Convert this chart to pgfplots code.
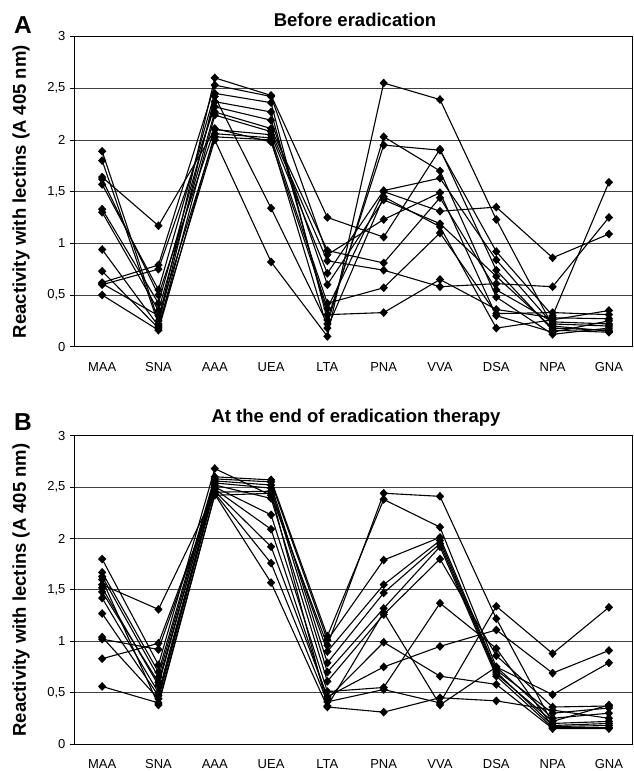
\documentclass[border=0pt]{standalone}
\usepackage{pgfplots}
\pgfplotsset{compat=1.18}
\usepackage{pgfplotstable}
\usepackage{fontspec}
\setmainfont{Liberation Sans}

% rows: MAA SNA AAA UEA LTA PNA VVA DSA NPA GNA ; columns: sera
\pgfplotstableread{
x a1 a2 a3 a4 a5 a6 a7 a8 a9 a10 a11 a12 a13
0 1.64 0.60 0.94 1.89 1.80 1.57 1.33 1.30 0.73 0.62 0.50 1.62 0.61
1 1.17 0.75 0.20 0.25 0.22 0.55 0.42 0.35 0.18 0.79 0.16 0.50 0.30
2 2.10 2.32 2.00 2.60 2.42 2.45 2.37 2.27 2.24 2.53 2.06 2.11 2.03
3 2.05 2.19 0.82 2.43 1.34 2.36 2.27 2.11 2.08 2.42 2.02 1.98 2.00
4 0.71 0.60 0.10 1.25 0.22 0.26 0.31 0.93 0.83 0.89 0.42 0.37 0.18
5 1.51 1.42 2.55 1.06 2.03 1.95 0.33 0.81 0.74 1.23 0.57 1.50 1.45
6 1.63 1.19 2.39 1.91 1.70 1.90 0.65 1.44 0.58 1.49 1.10 1.31 1.16
7 0.84 0.68 1.23 0.74 0.48 0.92 0.36 0.55 0.61 0.30 0.32 1.35 0.18
8 0.22 0.18 0.20 0.16 0.12 0.30 0.28 0.24 0.58 0.14 0.33 0.86 0.26
9 0.20 0.16 0.15 0.14 0.18 1.59 0.27 0.22 1.25 0.25 0.31 1.09 0.35
}\dataA

\pgfplotstableread{
x b1 b2 b3 b4 b5 b6 b7 b8 b9 b10 b11 b12 b13
0 1.80 1.67 1.63 1.55 1.52 1.48 1.42 1.27 1.04 1.02 0.83 0.56 1.60
1 0.77 0.70 0.65 1.31 0.57 0.60 0.50 0.47 0.44 0.92 0.98 0.40 0.38
2 2.68 2.60 2.58 2.45 2.56 2.54 2.52 2.50 2.48 2.46 2.44 2.43 2.42
3 2.42 2.57 2.55 2.46 2.52 2.49 2.39 2.23 2.09 1.92 1.76 1.57 2.44
4 0.96 1.05 1.01 0.90 0.79 0.70 0.61 0.51 0.44 0.46 0.41 0.36 0.37
5 2.44 2.38 1.79 1.55 1.47 1.32 1.26 0.55 0.99 0.75 0.53 0.31 1.28
6 2.41 2.11 2.01 1.98 1.95 1.92 1.80 1.37 0.66 0.95 0.40 0.45 0.38
7 1.22 0.75 0.72 0.70 0.68 0.66 0.86 0.93 0.58 1.11 1.34 0.42 0.75
8 0.20 0.25 0.30 0.18 0.22 0.16 0.36 0.17 0.15 0.69 0.88 0.33 0.48
9 0.22 0.30 0.35 0.20 0.38 0.16 0.37 0.18 0.15 0.91 1.33 0.25 0.79
}\dataB

\pgfplotsset{
 ser/.style={black, solid, line width=1.1pt, mark=diamond*, mark size=3.6pt,
   mark options={solid, fill=black, xscale=1.25}},
 lectin/.style={
  scale only axis, width=558pt, anchor=south west,
  xmin=-0.5, xmax=9.41, ymin=0, ymax=3,
  ytick={0,0.5,1,1.5,2,2.5,3}, yticklabels={0,{0,5},1,{1,5},2,{2,5},3},
  xtick={0,...,9}, xticklabels={MAA,SNA,AAA,UEA,LTA,PNA,VVA,DSA,NPA,GNA},
  ymajorgrids, grid style={black!75, line width=0.8pt},
  axis line style={black, line width=1pt},
  x tick style={draw=none},
  y tick style={black, line width=0.8pt}, tick align=outside, major tick length=4pt,
  ytick pos=left, xtick pos=bottom,
  tick label style={font=\fontsize{13}{15}\selectfont},
  yticklabel style={xshift=-1pt},
  xticklabel style={yshift=-8pt},
  clip=false,
 }}

\begin{document}
\begin{tikzpicture}
\useasboundingbox (0pt,0pt) rectangle (633pt,-771pt);

% Panel A
\node[font=\fontsize{24.5}{28}\selectfont\bfseries] at (23pt,-25pt) {A};
\node[font=\fontsize{18.5}{21}\selectfont\bfseries] at (355pt,-20pt) {Before eradication};
\node[font=\fontsize{18.5}{21}\selectfont\bfseries, rotate=90] at (21pt,-191.6pt) {Reactivity with lectins (A 405 nm)};
\begin{axis}[lectin, at={(74pt,-346.7pt)}, height=310.2pt]
\pgfplotsinvokeforeach{a1,a2,a3,a4,a5,a6,a7,a8,a9,a10,a11,a12,a13}{
  \addplot[ser] table[x=x, y=#1] {\dataA};
}
\end{axis}

% Panel B
\node[font=\fontsize{24.5}{28}\selectfont\bfseries] at (23pt,-421.7pt) {B};
\node[font=\fontsize{18.5}{21}\selectfont\bfseries] at (356pt,-418pt) {At the end of eradication therapy};
\node[font=\fontsize{18.5}{21}\selectfont\bfseries, rotate=90] at (21pt,-590pt) {Reactivity with lectins (A 405 nm)};
\begin{axis}[lectin, at={(74pt,-744pt)}, height=308.3pt]
\pgfplotsinvokeforeach{b1,b2,b3,b4,b5,b6,b7,b8,b9,b10,b11,b12,b13}{
  \addplot[ser] table[x=x, y=#1] {\dataB};
}
\end{axis}
\end{tikzpicture}
\end{document}
